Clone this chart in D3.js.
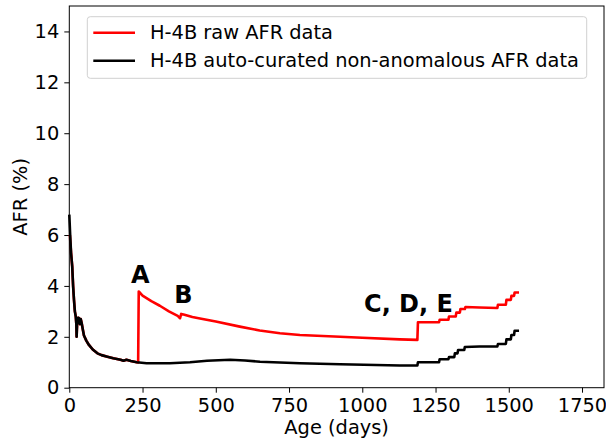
<!DOCTYPE html>
<html>
<head>
<meta charset="utf-8">
<script src="https://cdn.jsdelivr.net/npm/d3@7"></script>
<style>
  body { margin: 0; background: #fff; }
  text { font-family: "DejaVu Sans", sans-serif; fill: #000; }
</style>
</head>
<body>
<div id="chart"></div>
<script>
// raw AFR series (red)
var rawDays = [2, 6, 10, 13, 16, 19, 22, 24, 25, 27, 30, 33, 36, 39, 42, 46, 50, 58, 67, 80, 96, 110, 130, 150, 175, 185, 195, 210, 230, 235,
  237, 250, 280, 309, 340, 370, 378, 382, 390, 420, 446, 500, 582, 650, 719, 787, 924, 1000, 1128, 1188,
  1190, 1262, 1264, 1294, 1296, 1319, 1321, 1333, 1335, 1350, 1352, 1400, 1461, 1463, 1490, 1492, 1507, 1509, 1518, 1520, 1535];
var rawAfr = [6.0, 5.3, 4.76, 4.0, 3.45, 3.0, 2.8, 2.5, 2.0, 2.6, 2.75, 2.73, 2.5, 2.7, 2.55, 2.3, 2.05, 1.85, 1.68, 1.5, 1.35, 1.28, 1.22, 1.16, 1.1, 1.06, 1.1, 1.05, 1.0, 0.99,
  3.78, 3.62, 3.4, 3.22, 3.0, 2.82, 2.73, 2.9, 2.88, 2.78, 2.72, 2.6, 2.4, 2.25, 2.14, 2.07, 2.0, 1.96, 1.9, 1.88,
  2.57, 2.57, 2.67, 2.67, 2.8, 2.8, 2.95, 2.95, 3.09, 3.09, 3.17, 3.15, 3.13, 3.26, 3.26, 3.45, 3.45, 3.61, 3.61, 3.74, 3.74];

// auto-curated non-anomalous series (black)
var curDays = [0, 3, 6, 10, 13, 16, 19, 22, 24, 25, 27, 30, 33, 36, 39, 42, 46, 50, 58, 67, 80, 96, 110, 130, 150, 175, 185, 195, 210, 230,
  264, 300, 343, 412, 470, 549, 600, 651, 787, 924, 1128, 1188,
  1190, 1262, 1264, 1294, 1296, 1314, 1316, 1325, 1327, 1348, 1350, 1400, 1461, 1463, 1490, 1492, 1507, 1509, 1518, 1520, 1535];
var curAfr = [6.8, 6.0, 5.3, 4.76, 4.0, 3.45, 3.0, 2.8, 2.5, 2.0, 2.6, 2.75, 2.73, 2.5, 2.7, 2.55, 2.3, 2.05, 1.85, 1.68, 1.5, 1.35, 1.28, 1.22, 1.16, 1.1, 1.06, 1.1, 1.05, 1.0,
  0.96, 0.96, 0.96, 1.0, 1.06, 1.1, 1.07, 1.02, 0.96, 0.92, 0.87, 0.87,
  1.0, 1.0, 1.12, 1.12, 1.2, 1.2, 1.35, 1.35, 1.48, 1.48, 1.6, 1.62, 1.62, 1.72, 1.72, 1.9, 1.9, 2.07, 2.07, 2.24, 2.24];

var xTicks = [0, 250, 500, 750, 1000, 1250, 1500, 1750];
var yTicks = [0, 2, 4, 6, 8, 10, 12, 14];

var seriesNames = ["H-4B raw AFR data", "H-4B auto-curated non-anomalous AFR data"];
var seriesColors = ["#ff0000", "#000000"];

var labelText = ["A", "B", "C, D, E"];
var labelDay = [211, 358, 1006];
var labelAfr = [4.11, 3.32, 2.99];

var width = 606, height = 442;
var margin = { top: 6, right: 2, bottom: 54.3, left: 69.3 },
    plotW = width - margin.left - margin.right,
    plotH = height - margin.top - margin.bottom;

var fontSize = "19.4px";

var svg = d3.select("#chart")
  .append("svg")
  .attr("width", width)
  .attr("height", height);

var g = svg.append("g")
  .attr("transform", "translate(" + margin.left + "," + margin.top + ")");

var x = d3.scaleLinear().domain([0, 1825]).range([0, plotW]);
var y = d3.scaleLinear().domain([0, 15]).range([plotH, 0]);

// axes
var xAxis = g.append("g")
  .attr("transform", "translate(0," + plotH + ")")
  .call(d3.axisBottom(x).tickValues(xTicks).tickSize(5).tickPadding(5).tickFormat(d3.format("d")));
var yAxis = g.append("g")
  .call(d3.axisLeft(y).tickValues(yTicks).tickSize(5).tickPadding(5).tickFormat(d3.format("d")));

[xAxis, yAxis].forEach(function(a) {
  a.select(".domain").remove();
  a.selectAll("line").attr("stroke", "#000").attr("stroke-width", 1);
  a.selectAll("text").attr("font-size", fontSize).attr("font-family", "DejaVu Sans");
});
xAxis.selectAll("text").attr("dy", "0.72em");

// lines
var line = d3.line()
  .x(function(d) { return x(d[0]); })
  .y(function(d) { return y(d[1]); });

var rawData = rawDays.map(function(d, i) { return [d, rawAfr[i]]; });
var curData = curDays.map(function(d, i) { return [d, curAfr[i]]; });

g.append("path")
  .datum(rawData)
  .attr("fill", "none")
  .attr("stroke", seriesColors[0])
  .attr("stroke-width", 2.6)
  .attr("stroke-linejoin", "round")
  .attr("d", line);

g.append("path")
  .datum(curData)
  .attr("fill", "none")
  .attr("stroke", seriesColors[1])
  .attr("stroke-width", 2.6)
  .attr("stroke-linejoin", "round")
  .attr("d", line);

// annotations
g.selectAll(".annot")
  .data(labelText)
  .enter()
  .append("text")
  .attr("class", "annot")
  .attr("x", function(d, i) { return x(labelDay[i]); })
  .attr("y", function(d, i) { return y(labelAfr[i]); })
  .attr("font-size", "24px")
  .attr("font-weight", "bold")
  .text(function(d) { return d; });

// frame
g.append("rect")
  .attr("width", plotW)
  .attr("height", plotH)
  .attr("fill", "none")
  .attr("stroke", "#000")
  .attr("stroke-width", 1);

// legend
var legend = g.append("g").attr("transform", "translate(18,10.7)");
legend.append("rect")
  .attr("width", 499.4)
  .attr("height", 61.6)
  .attr("rx", 3)
  .attr("fill", "#fff")
  .attr("fill-opacity", 0.8)
  .attr("stroke", "#d0d0d0")
  .attr("stroke-width", 1);

var items = legend.selectAll(".item")
  .data(seriesNames)
  .enter()
  .append("g")
  .attr("transform", function(d, i) { return "translate(0," + (16 + i * 28) + ")"; });

items.append("line")
  .attr("x1", 6).attr("x2", 47.7)
  .attr("stroke", function(d, i) { return seriesColors[i]; })
  .attr("stroke-width", 2.6);

items.append("text")
  .attr("x", 62.7)
  .attr("dy", "0.35em")
  .attr("font-size", fontSize)
  .text(function(d) { return d; });

// axis labels
svg.append("text")
  .attr("x", margin.left + plotW / 2)
  .attr("y", 434)
  .attr("text-anchor", "middle")
  .attr("font-size", fontSize)
  .text("Age (days)");

svg.append("text")
  .attr("transform", "translate(27," + (margin.top + plotH / 2) + ") rotate(-90)")
  .attr("text-anchor", "middle")
  .attr("font-size", fontSize)
  .text("AFR (%)");
</script>
</body>
</html>
